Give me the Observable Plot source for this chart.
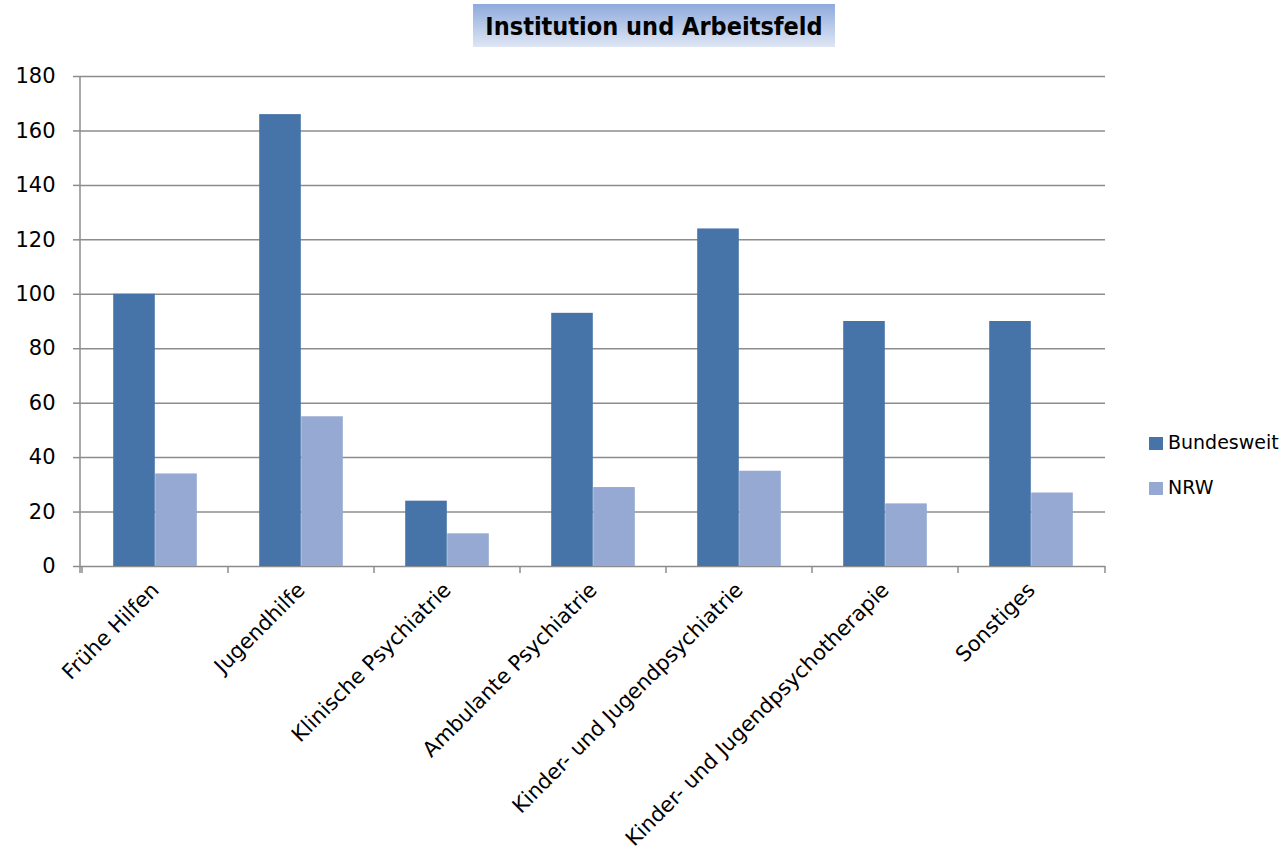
<!DOCTYPE html>
<html><head><meta charset="utf-8">
<script src="https://cdn.jsdelivr.net/npm/d3@7"></script>
<script src="https://cdn.jsdelivr.net/npm/@observablehq/plot@0.6"></script>
<style>
body{margin:0;background:#fff;font-family:'DejaVu Sans',sans-serif;}
#wrap{position:relative;width:1287px;height:858px;overflow:hidden;}
#title{position:relative;height:56px;}
#title div{position:absolute;left:473px;top:4px;width:362px;height:43px;line-height:45px;text-align:center;
  font-family:'DejaVu Sans Condensed','DejaVu Sans',sans-serif;font-weight:bold;font-size:25px;color:#000;
  background:linear-gradient(#8faadc,#dfe6f4);}
.leg{position:absolute;left:1149px;font-size:19px;color:#000;white-space:nowrap;}
.leg i{display:inline-block;width:14px;height:13px;margin-right:5px;vertical-align:-1px;}
</style></head>
<body><div id="wrap"><div id="title"><div>Institution und Arbeitsfeld</div></div><div id="chart"></div></div>
<script>
const categories = ["Frühe Hilfen","Jugendhilfe","Klinische Psychiatrie","Ambulante Psychiatrie","Kinder- und Jugendpsychiatrie","Kinder- und Jugendpsychotherapie","Sonstiges"];
const bundesweit = [100,166,24,93,124,90,90];
const nrw = [34,55,12,29,35,23,27];
const yTicks = [0,20,40,60,80,100,120,140,160,180];
const seriesNames = ["Bundesweit","NRW"];
const seriesColors = ["#4674a8","#95a9d2"];

const data = categories.flatMap((c,i)=>[
  {cat:c, series:seriesNames[0], value:bundesweit[i]},
  {cat:c, series:seriesNames[1], value:nrw[i]}
]);

const gridColor = "#8c8c8c";

function frameLines(index, scales, values, dims) {
  const g = d3.create("svg:g").attr("stroke", gridColor).attr("stroke-width", 1.5).attr("fill","none");
  const y0 = scales.y(0), yTop = scales.y(yTicks[yTicks.length-1]);
  const xl = dims.marginLeft, xr = dims.width - dims.marginRight;
  g.append("line").attr("x1", xl).attr("x2", xl).attr("y1", yTop).attr("y2", y0 + 7);
  const bounds = categories.map(c => scales.x(c)).concat([xr]);
  for (const bx of bounds) g.append("line").attr("x1", bx).attr("x2", bx).attr("y1", y0).attr("y2", y0 + 7);
  return g.node();
}

const plot = Plot.plot({
  width: 1287, height: 802,
  marginTop: 20, marginLeft: 80, marginRight: 182, marginBottom: 292,
  style: {fontFamily: "'DejaVu Sans', sans-serif", fontSize: "21px", color: "#000", background: "#fff", overflow: "visible"},
  x: {domain: categories, padding: 0, label: null},
  y: {domain: [0, 180], label: null},
  color: {domain: seriesNames, range: seriesColors},
  marks: [
    Plot.gridY(yTicks, {stroke: gridColor, strokeOpacity: 1, strokeWidth: 1.5}),
    Plot.axisY(yTicks, {tickSize: 7, tickPadding: 18, stroke: gridColor, strokeWidth: 1.5, fill: "#000", fontSize: 21, label: null}),
    Plot.barY(data.filter(d => d.series === seriesNames[0]), {x: "cat", y: "value", fill: "series", insetLeft: 31.2, insetRight: 73.2}),
    Plot.barY(data.filter(d => d.series === seriesNames[1]), {x: "cat", y: "value", fill: "series", insetLeft: 73.2, insetRight: 31.2}),
    frameLines,
    Plot.axisX({tickSize: 0, tickPadding: 20, tickRotate: -45, fill: "#000", fontSize: 21, label: null})
  ]
});
const wrap = document.getElementById("wrap");
document.getElementById("chart").appendChild(plot);

const legendTops = [431, 476];
seriesNames.forEach((s, i) => {
  const d = document.createElement("div");
  d.className = "leg";
  d.style.top = legendTops[i] + "px";
  d.innerHTML = `<i style="background:${seriesColors[i]}"></i>${s}`;
  wrap.appendChild(d);
});
</script>
</body></html>
